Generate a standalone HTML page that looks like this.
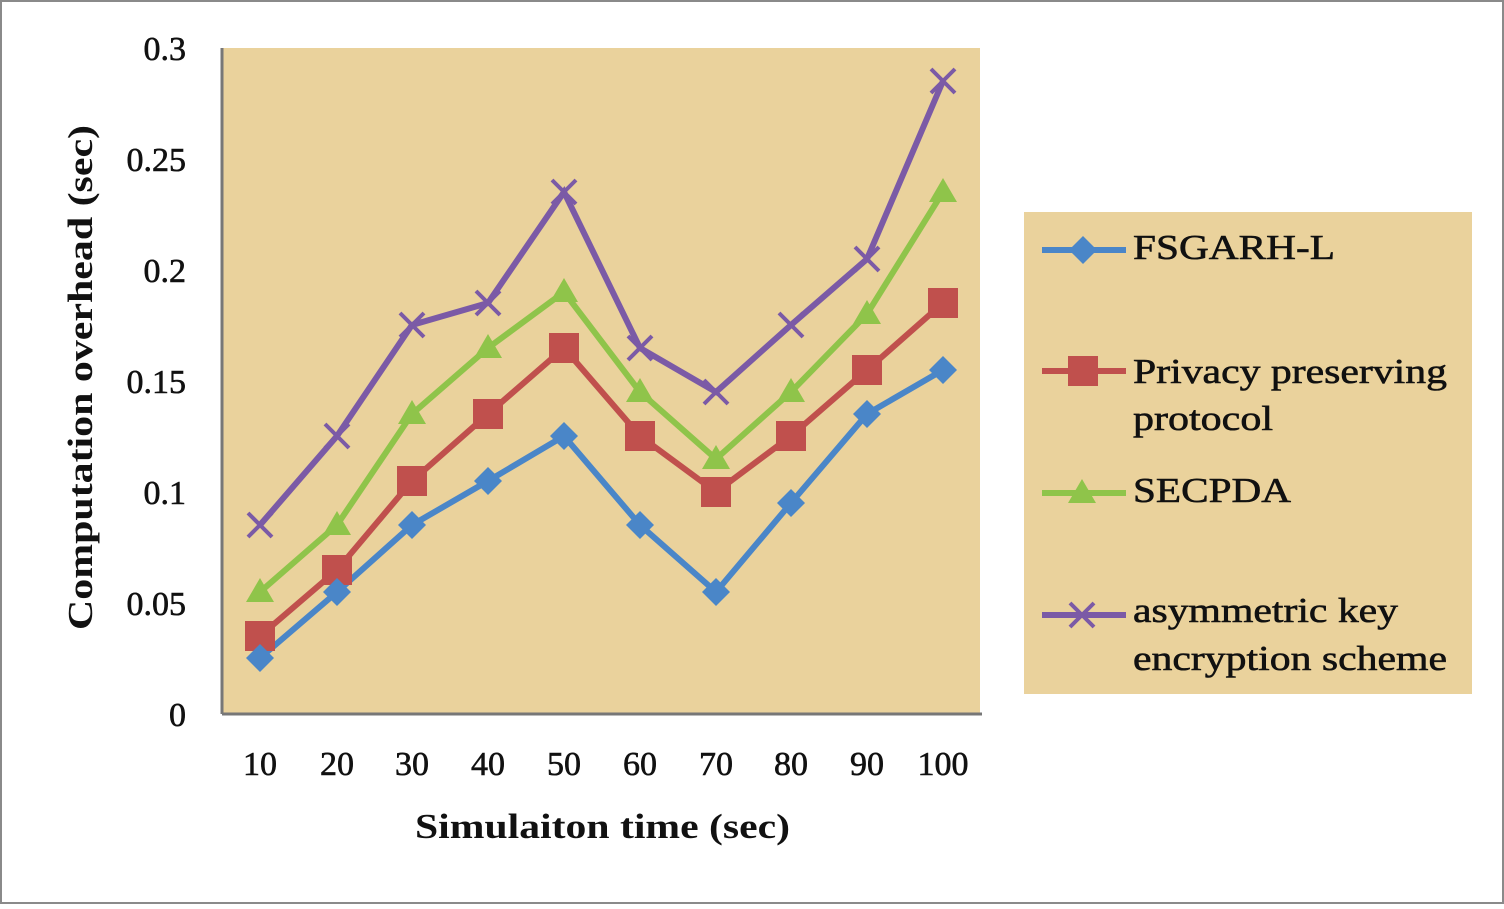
<!DOCTYPE html>
<html><head><style>
body{margin:0;background:#fff;}
svg text{font-family:"Liberation Serif",serif;}
</style></head><body>
<svg width="1504" height="904" xmlns="http://www.w3.org/2000/svg">
<rect x="1" y="1" width="1502" height="902" fill="#fff" stroke="#8a8a8a" stroke-width="2"/>
<rect x="222" y="48" width="758" height="666" fill="#ead29c"/>
<rect x="1024" y="212" width="448" height="482" fill="#ead29c"/>
<line x1="222" y1="48" x2="222" y2="714" stroke="#777" stroke-width="3"/>
<line x1="222" y1="714" x2="982" y2="714" stroke="#777" stroke-width="3"/>
<g font-size="34" fill="#111" text-anchor="end" stroke="#111" stroke-width="0.6">
<text x="186" y="60">0.3</text><text x="186" y="171">0.25</text><text x="186" y="282">0.2</text>
<text x="186" y="393">0.15</text><text x="186" y="504">0.1</text><text x="186" y="615">0.05</text><text x="186" y="726">0</text>
</g>
<g font-size="34" fill="#111" text-anchor="middle" stroke="#111" stroke-width="0.6">
<text x="260" y="775">10</text><text x="337" y="775">20</text><text x="412" y="775">30</text><text x="488" y="775">40</text><text x="564" y="775">50</text><text x="640" y="775">60</text><text x="716" y="775">70</text><text x="791" y="775">80</text><text x="867" y="775">90</text><text x="943" y="775">100</text>
</g>
<text x="415" y="838" font-size="35" font-weight="bold" fill="#111" textLength="375" lengthAdjust="spacingAndGlyphs">Simulaiton time (sec)</text>
<text transform="translate(92,630) rotate(-90)" font-size="35" font-weight="bold" fill="#111" textLength="505" lengthAdjust="spacingAndGlyphs">Computation overhead (sec)</text>
<polyline fill="none" stroke="#7b5aa6" stroke-width="6" points="260,525 337,436 412,325 488,303 564,192 640,348 716,392 791,325 867,259 943,81"/>
<polyline fill="none" stroke="#8fc44a" stroke-width="6" points="260,592 337,525 412,414 488,348 564,292 640,392 716,459 791,392 867,314 943,192"/>
<polyline fill="none" stroke="#c0504d" stroke-width="6" points="260,636 337,570 412,481 488,414 564,348 640,436 716,492 791,436 867,370 943,303"/>
<polyline fill="none" stroke="#4a86c8" stroke-width="6" points="260,658 337,592 412,525 488,481 564,436 640,525 716,592 791,503 867,414 943,370"/>
<g stroke="#7b5aa6" stroke-width="4">
<path d="M248,513l24,24M272,513l-24,24M325,424l24,24M349,424l-24,24M400,313l24,24M424,313l-24,24M476,291l24,24M500,291l-24,24M552,180l24,24M576,180l-24,24M628,336l24,24M652,336l-24,24M704,380l24,24M728,380l-24,24M779,313l24,24M803,313l-24,24M855,247l24,24M879,247l-24,24M931,69l24,24M955,69l-24,24M1070,603l24,24M1094,603l-24,24"/>
</g>
<g fill="#8fc44a">
<path d="M260,578l14,24h-28zM337,511l14,24h-28zM412,400l14,24h-28zM488,334l14,24h-28zM564,278l14,24h-28zM640,378l14,24h-28zM716,445l14,24h-28zM791,378l14,24h-28zM867,300l14,24h-28zM943,178l14,24h-28zM1082,479l14,24h-28z"/>
</g>
<g fill="#c0504d">
<rect x="245" y="621" width="30" height="30"/><rect x="322" y="555" width="30" height="30"/><rect x="397" y="466" width="30" height="30"/><rect x="473" y="399" width="30" height="30"/><rect x="549" y="333" width="30" height="30"/><rect x="625" y="421" width="30" height="30"/><rect x="701" y="477" width="30" height="30"/><rect x="776" y="421" width="30" height="30"/><rect x="852" y="355" width="30" height="30"/><rect x="928" y="288" width="30" height="30"/><rect x="1068" y="356" width="30" height="30"/>
</g>
<g fill="#4a86c8">
<path d="M260,644l14,14l-14,14l-14,-14zM337,578l14,14l-14,14l-14,-14zM412,511l14,14l-14,14l-14,-14zM488,467l14,14l-14,14l-14,-14zM564,422l14,14l-14,14l-14,-14zM640,511l14,14l-14,14l-14,-14zM716,578l14,14l-14,14l-14,-14zM791,489l14,14l-14,14l-14,-14zM867,400l14,14l-14,14l-14,-14zM943,356l14,14l-14,14l-14,-14zM1083,236l14,14l-14,14l-14,-14z"/>
</g>
<g stroke-width="6">
<line x1="1042" y1="250" x2="1126" y2="250" stroke="#4a86c8"/>
<line x1="1042" y1="371" x2="1126" y2="371" stroke="#c0504d"/>
<line x1="1042" y1="493" x2="1126" y2="493" stroke="#8fc44a"/>
<line x1="1042" y1="615" x2="1126" y2="615" stroke="#7b5aa6"/>
</g>
<g font-size="35" fill="#111" stroke="#111" stroke-width="0.6" lengthAdjust="spacingAndGlyphs">
<text x="1133" y="259" textLength="202" lengthAdjust="spacingAndGlyphs">FSGARH-L</text>
<text x="1133" y="383" textLength="314" lengthAdjust="spacingAndGlyphs">Privacy preserving</text>
<text x="1133" y="430" textLength="140" lengthAdjust="spacingAndGlyphs">protocol</text>
<text x="1133" y="502" textLength="158" lengthAdjust="spacingAndGlyphs">SECPDA</text>
<text x="1133" y="622" textLength="265" lengthAdjust="spacingAndGlyphs">asymmetric key</text>
<text x="1133" y="670" textLength="314" lengthAdjust="spacingAndGlyphs">encryption scheme</text>
</g>
</svg>
</body></html>
